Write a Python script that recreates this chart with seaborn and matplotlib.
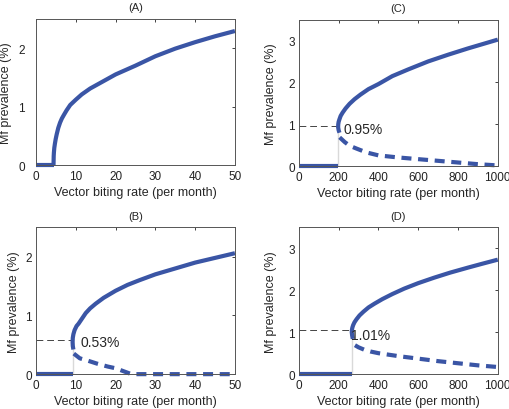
import numpy as np
import pandas as pd
import matplotlib
matplotlib.use("Agg")
import matplotlib.pyplot as plt
import seaborn as sns

# panel A: plain threshold, no bistability
a_zero_x = [0, 4.4]
a_zero_y = [0, 0]
a_up_x = [4.4, 4.45, 4.5, 4.6, 4.75, 4.95, 5.2, 5.6, 6.05, 6.5, 7.0, 7.7, 8.6, 10, 11.5, 13.6, 16, 20, 25, 30, 35, 40, 45, 50]
a_up_y = [0, 0.16, 0.22, 0.30, 0.37, 0.45, 0.53, 0.64, 0.73, 0.80, 0.86, 0.94, 1.03, 1.12, 1.21, 1.31, 1.40, 1.55, 1.70, 1.86, 1.99, 2.10, 2.20, 2.29]

# panel B
b_zero_x = [0, 9.2]
b_zero_y = [0, 0]
b_up_x = [9.4, 9.25, 9.2, 9.25, 9.4, 9.7, 10.2, 10.7, 11.5, 12.5, 13.6, 15, 17, 20, 23, 26, 30, 35, 40, 45, 50]
b_up_y = [0.42, 0.48, 0.55, 0.62, 0.68, 0.75, 0.82, 0.86, 0.94, 1.04, 1.12, 1.20, 1.30, 1.42, 1.52, 1.60, 1.70, 1.80, 1.90, 1.98, 2.06]
b_low_x = [9.5, 11, 13, 15.3, 18, 20, 22, 24, 50]
b_low_y = [0.35, 0.27, 0.23, 0.18, 0.13, 0.10, 0.05, 0.0, 0.0]
b_thr = (9.2, 0.58)
b_lab = "0.53%"

# panel C
c_zero_x = [0, 198]
c_zero_y = [0, 0]
c_up_x = [204, 200, 197.5, 198, 200, 204, 210, 220, 235, 255, 280, 310, 350, 400, 470, 550, 650, 750, 850, 1000]
c_up_y = [0.80, 0.86, 0.93, 1.00, 1.06, 1.12, 1.20, 1.28, 1.38, 1.49, 1.60, 1.71, 1.84, 1.96, 2.15, 2.31, 2.50, 2.66, 2.81, 3.02]
c_low_x = [205, 230, 255, 291, 340, 400, 500, 600, 700, 800, 900, 1000]
c_low_y = [0.69, 0.58, 0.49, 0.42, 0.33, 0.26, 0.21, 0.17, 0.13, 0.09, 0.05, 0.02]
c_thr = (198, 0.96)
c_lab = "0.95%"

# panel D
d_zero_x = [0, 269]
d_zero_y = [0, 0]
d_up_x = [271, 268, 266, 267, 269, 273, 280, 290, 305, 325, 350, 380, 420, 470, 530, 600, 680, 760, 850, 920, 1000]
d_up_y = [0.84, 0.92, 1.00, 1.06, 1.11, 1.17, 1.24, 1.31, 1.40, 1.49, 1.59, 1.68, 1.79, 1.91, 2.04, 2.17, 2.30, 2.42, 2.54, 2.63, 2.73]
d_low_x = [282, 300, 330, 360, 400, 500, 600, 700, 800, 900, 1000]
d_low_y = [0.69, 0.64, 0.58, 0.54, 0.50, 0.43, 0.37, 0.31, 0.26, 0.21, 0.17]
d_thr = (266, 1.05)
d_lab = "1.01%"

sns.set_style("white")
plt.rcParams["font.family"] = ["Liberation Sans", "DejaVu Sans"]
plt.rcParams["font.size"] = 9

blue = "#3a55a5"
fig = plt.figure(figsize=(5.1, 4.1), dpi=100)

def curve(ax, x, y, dashed=False):
    sns.lineplot(x=x, y=y, ax=ax, color=blue, lw=3, sort=False,
                 estimator=None, clip_on=False)
    ln = ax.lines[-1]
    ln.set_solid_capstyle("butt")
    ln.set_solid_joinstyle("round")
    if dashed:
        ln.set_dashes((2.4, 1.6))

def setup(ax, title, xmax, ymax, xticks, yticks, ypad, ylab_x):
    ax.set_xlim(0, xmax)
    ax.set_ylim(0, ymax)
    ax.set_xticks(xticks)
    ax.set_yticks(yticks)
    ax.tick_params(direction="in", length=2.5, width=0.6, top=True, right=True,
                   labelsize=8.5, colors="#222222")
    ax.tick_params(axis="x", pad=3.5)
    ax.tick_params(axis="y", pad=ypad)
    for s in ax.spines.values():
        s.set_color("#555555")
        s.set_linewidth(0.7)
    ax.set_title(title, fontsize=8, pad=6)
    ax.set_xlabel("Vector biting rate (per month)", fontsize=9, labelpad=3)
    ax.set_ylabel("Mf prevalence (%)", fontsize=9)
    ax.yaxis.set_label_coords(ylab_x, 0.5)

def thr_lines(ax, thr):
    sns.lineplot(x=[0, thr[0]], y=[thr[1], thr[1]], ax=ax, color="#444444", lw=0.7)
    ax.lines[-1].set_dashes((7, 4))
    sns.lineplot(x=[thr[0], thr[0]], y=[0, thr[1]], ax=ax, color="#444444", lw=0.7)
    ax.lines[-1].set_dashes((7, 4))

w, h = 0.39, 0.358
axA = fig.add_axes([0.0706, 0.594, w, h])
axC = fig.add_axes([0.586, 0.592, w, h])
axB = fig.add_axes([0.0706, 0.085, w, h])
axD = fig.add_axes([0.586, 0.085, w, h])

# A
curve(axA, a_zero_x, a_zero_y)
curve(axA, a_up_x, a_up_y)
setup(axA, "(A)", 50, 2.5, [0, 10, 20, 30, 40, 50], [0, 1, 2], 8, -0.12)

# B
thr_lines(axB, b_thr)
curve(axB, b_zero_x, b_zero_y)
curve(axB, b_up_x, b_up_y)
curve(axB, b_low_x, b_low_y, dashed=True)
axB.text(11.2, 0.54, b_lab, fontsize=10, va="center", ha="left")
setup(axB, "(B)", 50, 2.5, [0, 10, 20, 30, 40, 50], [0, 1, 2], 3, -0.08)

# C
thr_lines(axC, c_thr)
curve(axC, c_zero_x, c_zero_y)
curve(axC, c_up_x, c_up_y)
curve(axC, c_low_x, c_low_y, dashed=True)
axC.text(222, 0.89, c_lab, fontsize=10, va="center", ha="left")
setup(axC, "(C)", 1000, 3.5, [0, 200, 400, 600, 800, 1000], [0, 1, 2, 3], 3, -0.11)

# D
thr_lines(axD, d_thr)
curve(axD, d_zero_x, d_zero_y)
curve(axD, d_up_x, d_up_y)
curve(axD, d_low_x, d_low_y, dashed=True)
axD.text(262, 0.94, d_lab, fontsize=10, va="center", ha="left")
setup(axD, "(D)", 1000, 3.5, [0, 200, 400, 600, 800, 1000], [0, 1, 2, 3], 3, -0.11)

fig.savefig("out.png", dpi=100)
